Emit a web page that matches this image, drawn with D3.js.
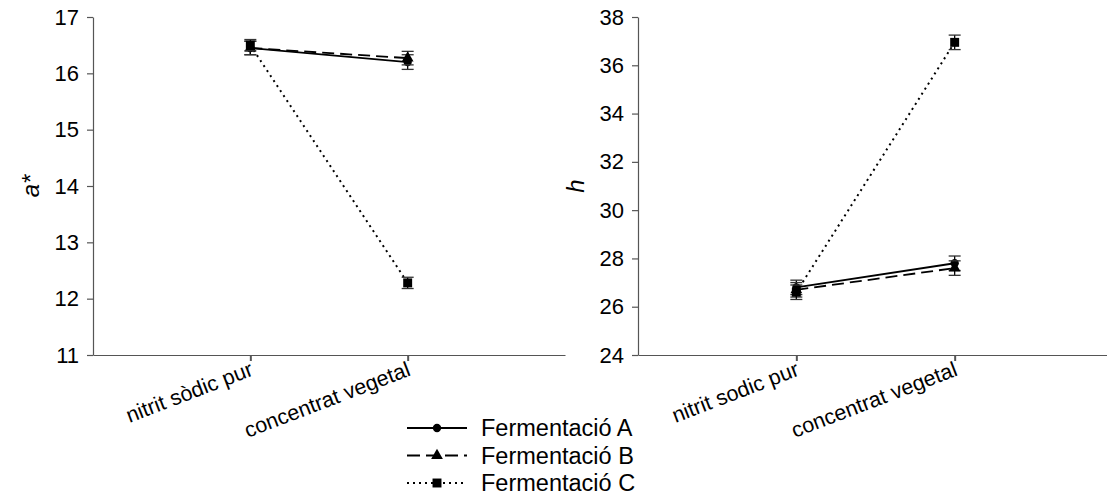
<!DOCTYPE html>
<html>
<head>
<meta charset="utf-8">
<script src="https://cdn.jsdelivr.net/npm/d3@7"></script>
<style>
  body { margin: 0; background: #fff; }
  svg text { font-family: "Liberation Sans", Arial, sans-serif; fill: #000; }
</style>
</head>
<body>
<svg id="chart" width="1107" height="497"></svg>
<script>
// Treatments on the x axis
const categories = ["nitrit sòdic pur", "concentrat vegetal"];
const categoriesH = ["nitrit sodic pur", "concentrat vegetal"];

// a* means and standard errors per fermentation
const aStarA = [16.45, 16.20], aStarAErr = [0.12, 0.13];
const aStarB = [16.45, 16.27], aStarBErr = [0.12, 0.12];
const aStarC = [16.50, 12.28], aStarCErr = [0.10, 0.10];

// hue angle (h) means and standard errors per fermentation
const hueA = [26.8, 27.8], hueAErr = [0.3, 0.3];
const hueB = [26.7, 27.6], hueBErr = [0.3, 0.3];
const hueC = [26.6, 36.95], hueCErr = [0.3, 0.3];

const aStarTicks = [11, 12, 13, 14, 15, 16, 17];
const hueTicks = [24, 26, 28, 30, 32, 34, 36, 38];

const seriesNames = ["Fermentació A", "Fermentació B", "Fermentació C"];
const seriesStyle = [
  { dash: null, marker: "circle" },
  { dash: "12,6", marker: "triangle" },
  { dash: "2,4", marker: "square" }
];

const svg = d3.select("#chart");
const axisColor = "#555";
const fontSize = 22;

function markerPath(type) {
  if (type === "circle") return d3.symbol(d3.symbolCircle, 55)();
  if (type === "triangle") return d3.symbol(d3.symbolTriangle, 60)();
  return d3.symbol(d3.symbolSquare, 80)();
}

function panel(opts) {
  const { left, top, width, height, domain, ticks, cats, series, title } = opts;
  const g = svg.append("g").attr("transform", `translate(${left},${top})`);

  const x = d3.scalePoint().domain(cats).range([0, width]).padding(1);
  const y = d3.scaleLinear().domain(domain).range([height, 0]);

  // y axis
  const yAxis = g.append("g").call(d3.axisLeft(y).tickValues(ticks).tickFormat(d3.format("d"))
    .tickSize(6).tickSizeOuter(0).tickPadding(8));
  yAxis.select(".domain").attr("stroke", axisColor).attr("stroke-width", 1.2);
  yAxis.selectAll(".tick line").attr("stroke", axisColor).attr("stroke-width", 1.2);
  yAxis.selectAll(".tick text").attr("font-size", fontSize).attr("font-family", "Liberation Sans, Arial, sans-serif").attr("fill", "#000");

  // x axis
  const xAxis = g.append("g").attr("transform", `translate(0,${height})`)
    .call(d3.axisBottom(x).tickSize(6).tickSizeOuter(0).tickFormat(() => ""));
  xAxis.select(".domain").attr("stroke", axisColor).attr("stroke-width", 1.2);
  xAxis.selectAll(".tick line").attr("stroke", axisColor).attr("stroke-width", 2);

  // rotated category labels
  g.append("g").selectAll("text").data(cats).join("text")
    .attr("transform", d => `translate(${x(d) + 4},${height + 20}) rotate(-21)`)
    .attr("text-anchor", "end")
    .attr("font-size", fontSize - 0.5)
    .text(d => d);

  // y title
  g.append("text")
    .attr("transform", `translate(${-54},${height / 2}) rotate(-90)`)
    .attr("text-anchor", "middle")
    .attr("font-size", fontSize + 2)
    .attr("font-style", "italic")
    .text(title);

  series.forEach((s, i) => {
    const st = seriesStyle[i];
    const pts = s.values.map((v, j) => ({ c: cats[j], v, e: s.err[j] }));
    g.append("path")
      .datum(pts)
      .attr("fill", "none")
      .attr("stroke", "#000")
      .attr("stroke-width", st.dash === "2,4" ? 2 : 1.8)
      .attr("stroke-dasharray", st.dash)
      .attr("d", d3.line().x(d => x(d.c)).y(d => y(d.v)));

    const eg = g.append("g");
    pts.forEach(d => {
      const cx = x(d.c);
      eg.append("line").attr("x1", cx).attr("x2", cx).attr("y1", y(d.v - d.e)).attr("y2", y(d.v + d.e))
        .attr("stroke", "#000").attr("stroke-width", 1.3);
      [d.v - d.e, d.v + d.e].forEach(b => {
        eg.append("line").attr("x1", cx - 6).attr("x2", cx + 6).attr("y1", y(b)).attr("y2", y(b))
          .attr("stroke", "#333").attr("stroke-width", 1.3);
      });
      eg.append("path").attr("d", markerPath(st.marker))
        .attr("transform", `translate(${cx},${y(d.v)})`).attr("fill", "#000");
    });
  });
}

panel({
  left: 93, top: 17, width: 472, height: 338,
  domain: [11, 17], ticks: aStarTicks, cats: categories, title: "a*",
  series: [
    { values: aStarA, err: aStarAErr },
    { values: aStarB, err: aStarBErr },
    { values: aStarC, err: aStarCErr }
  ]
});

panel({
  left: 638, top: 17, width: 475, height: 338,
  domain: [24, 38], ticks: hueTicks, cats: categoriesH, title: "h",
  series: [
    { values: hueA, err: hueAErr },
    { values: hueB, err: hueBErr },
    { values: hueC, err: hueCErr }
  ]
});

// legend
const legend = svg.append("g").attr("transform", "translate(407,428)");
seriesNames.forEach((name, i) => {
  const st = seriesStyle[i];
  const row = legend.append("g").attr("transform", `translate(0,${i * 27.5})`);
  row.append("line").attr("x1", 0).attr("x2", 60).attr("y1", 0).attr("y2", 0)
    .attr("stroke", "#000").attr("stroke-width", st.dash === "2,4" ? 2 : 1.8)
    .attr("stroke-dasharray", st.dash === "12,6" ? "13,6" : st.dash);
  row.append("path").attr("d", markerPath(st.marker)).attr("transform", "translate(30,0)").attr("fill", "#000");
  row.append("text").attr("x", 74).attr("y", 0).attr("dy", "0.36em")
    .attr("font-size", fontSize + 1.5).text(name);
});
</script>
</body>
</html>
